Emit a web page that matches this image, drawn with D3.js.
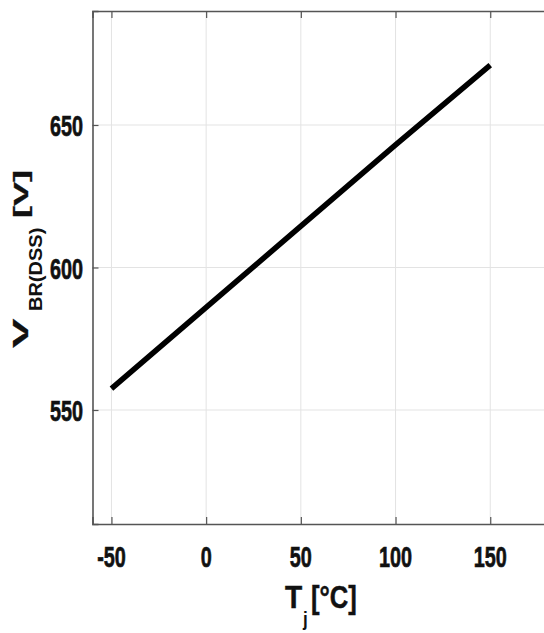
<!DOCTYPE html>
<html>
<head>
<meta charset="utf-8">
<script src="https://cdn.jsdelivr.net/npm/d3@7"></script>
<style>
  html, body { margin: 0; padding: 0; background: #fff; }
  svg { display: block; }
</style>
</head>
<body>
<div id="chart"></div>
<script>
// junction temperature (°C) vs breakdown voltage (V)
const tj = [-50, 0, 50, 100, 150];
const vbr = [557.5, 586, 614.5, 643, 671];
const xTicks = [-50, 0, 50, 100, 150];
const yTicks = [550, 600, 650];

const width = 544, height = 633;
const plotLeft = 92.5, plotTop = 11, plotBottom = 524;
const font = "'Liberation Sans', Arial, sans-serif";

const svg = d3.select("#chart").append("svg")
  .attr("width", width)
  .attr("height", height);

const x = d3.scaleLinear().domain([-60, 190]).range([plotLeft, 566]);
const y = d3.scaleLinear().domain([510, 690]).range([plotBottom, plotTop]);

// grid
const grid = svg.append("g");
grid.selectAll("line.gx")
  .data(xTicks)
  .enter().append("line")
  .attr("x1", d => x(d)).attr("x2", d => x(d))
  .attr("y1", plotTop).attr("y2", plotBottom)
  .attr("stroke", "#e3e3e3").attr("stroke-width", 1);
grid.selectAll("line.gy")
  .data(yTicks)
  .enter().append("line")
  .attr("x1", plotLeft).attr("x2", width)
  .attr("y1", d => y(d)).attr("y2", d => y(d))
  .attr("stroke", "#e3e3e3").attr("stroke-width", 1);

// the curve
const line = d3.line()
  .x((d, i) => x(tj[i]))
  .y(d => y(d));
svg.append("path")
  .datum(vbr)
  .attr("d", line)
  .attr("fill", "none")
  .attr("stroke", "#000")
  .attr("stroke-width", 5.5);

// axes, ticks pointing inward (matlab box)
const xAxis = svg.append("g").attr("transform", "translate(0," + plotBottom + ")")
  .call(d3.axisTop(x).tickValues(xTicks).tickSize(7).tickFormat(""));
const xTop = svg.append("g").attr("transform", "translate(0," + plotTop + ")")
  .call(d3.axisBottom(x).tickValues(xTicks).tickSize(7).tickFormat(""));
const yAxis = svg.append("g").attr("transform", "translate(" + plotLeft + ",0)")
  .call(d3.axisRight(y).tickValues(yTicks).tickSize(6).tickFormat(""));
[xAxis, xTop, yAxis].forEach(g => {
  g.selectAll("path.domain").attr("stroke", "#555").attr("stroke-width", 1.6);
  g.selectAll(".tick line").attr("stroke", "#555").attr("stroke-width", 1.2);
});

// tick labels (condensed heavy)
svg.append("g").selectAll("text")
  .data(xTicks)
  .enter().append("text")
  .attr("transform", d => "translate(" + x(d) + ",567) scale(0.66,1)")
  .attr("text-anchor", "middle")
  .style("font-family", font).style("font-weight", "bold").style("font-size", "30px")
  .attr("fill", "#111").attr("stroke", "#111").attr("stroke-width", 0.7)
  .text(d => d);

svg.append("g").selectAll("text")
  .data(yTicks)
  .enter().append("text")
  .attr("transform", d => "translate(83," + (y(d) + 11) + ") scale(0.66,1)")
  .attr("text-anchor", "end")
  .style("font-family", font).style("font-weight", "bold").style("font-size", "30px")
  .attr("fill", "#111").attr("stroke", "#111").attr("stroke-width", 0.7)
  .text(d => d);

// x label: T_j [°C]
const xl = svg.append("g").attr("fill", "#111")
  .style("font-family", font).style("font-weight", "bold");
xl.append("text")
  .attr("transform", "translate(285,608) scale(0.88,1)")
  .attr("stroke", "#111").attr("stroke-width", 0.5)
  .style("font-size", "32px").text("T");
xl.append("text")
  .attr("transform", "translate(303,626) scale(0.85,1)")
  .style("font-size", "20px").text("j");
xl.append("text")
  .attr("transform", "translate(311,608) scale(0.8,1)")
  .attr("stroke", "#111").attr("stroke-width", 0.5)
  .style("font-size", "32px").text("[°C]");

// y label: V_BR(DSS) [V]
const yl = svg.append("g").attr("fill", "#111")
  .style("font-family", font).style("font-weight", "bold");
yl.append("text")
  .attr("transform", "translate(28,348) scale(0.5,1) rotate(-90)")
  .attr("stroke", "#111").attr("stroke-width", 0.6)
  .style("font-size", "44px").text("V");
yl.append("text")
  .attr("transform", "translate(42,311) scale(0.9,1) rotate(-90)")
  .style("font-size", "20px").text("BR(DSS)");
yl.append("text")
  .attr("transform", "translate(28,218) scale(0.55,1) rotate(-90)")
  .attr("stroke", "#111").attr("stroke-width", 0.6)
  .style("font-size", "36px").text("[V]");
</script>
</body>
</html>
